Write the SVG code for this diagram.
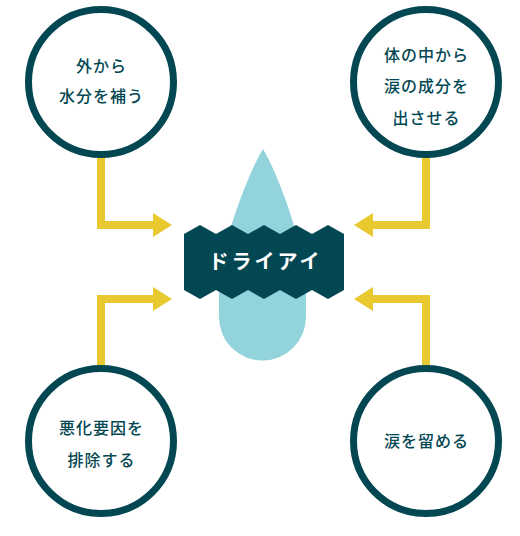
<svg xmlns="http://www.w3.org/2000/svg" width="520" height="536" viewBox="0 0 520 536">
<defs>
<style>
.circle{fill:#ffffff;stroke:#034752;stroke-width:7}
.conn{fill:none;stroke:#E8C930;stroke-width:8;stroke-linejoin:miter}
.head{fill:#E8C930}
.lbl{font-family:"Noto Sans CJK JP","Noto Sans",sans-serif;font-size:16px;font-weight:500;fill:#034752;text-anchor:middle;letter-spacing:1px}
.title{font-family:"Noto Sans CJK JP","Noto Sans",sans-serif;font-size:20px;font-weight:700;fill:#ffffff;text-anchor:middle;letter-spacing:3px}
</style>
</defs>
<rect width="520" height="536" fill="#ffffff"/>
<g id="connectors">
<path class="conn" d="M101,156 V225 H156"/>
<polygon class="head" points="153,213 172,225 153,237"/>
<path class="conn" d="M426,156 V225 H370"/>
<polygon class="head" points="373,213 354,225 373,237"/>
<path class="conn" d="M101,366 V299 H156"/>
<polygon class="head" points="153,287 172,299 153,311"/>
<path class="conn" d="M426,366 V299 H370"/>
<polygon class="head" points="373,287 354,299 373,311"/>
</g>
<g id="center">
<path d="M263,149 C250,170 224,235 219,280 L219,317 A43.5,43.5 0 0 0 306,317 L306,280 C301,235 276,170 263,149 Z" fill="#92D3DC"/>
<path d="M184,234 L200,225 L216,234 L232,225 L248,234 L264,225 L280,234 L296,225 L312,234 L328,225 L344,234 L344,290 L328,299 L312,290 L296,299 L280,290 L264,299 L248,290 L232,299 L216,290 L200,299 L184,290 Z" fill="#034752"/>
<text class="title" x="265.5" y="269">ドライアイ</text>
</g>
<g id="node-tl">
<circle class="circle" cx="101" cy="82" r="72.5"/>
<text class="lbl" x="101.5" y="72">外から</text>
<text class="lbl" x="101.5" y="102">水分を補う</text>
</g>
<g id="node-tr">
<circle class="circle" cx="426" cy="82" r="72.5"/>
<text class="lbl" x="426.5" y="61">体の中から</text>
<text class="lbl" x="426.5" y="92">涙の成分を</text>
<text class="lbl" x="426.5" y="124">出させる</text>
</g>
<g id="node-bl">
<circle class="circle" cx="101" cy="441" r="72.5"/>
<text class="lbl" x="101.5" y="434">悪化要因を</text>
<text class="lbl" x="101.5" y="466">排除する</text>
</g>
<g id="node-br">
<circle class="circle" cx="426" cy="441" r="72.5"/>
<text class="lbl" x="426.5" y="447">涙を留める</text>
</g>
</svg>
